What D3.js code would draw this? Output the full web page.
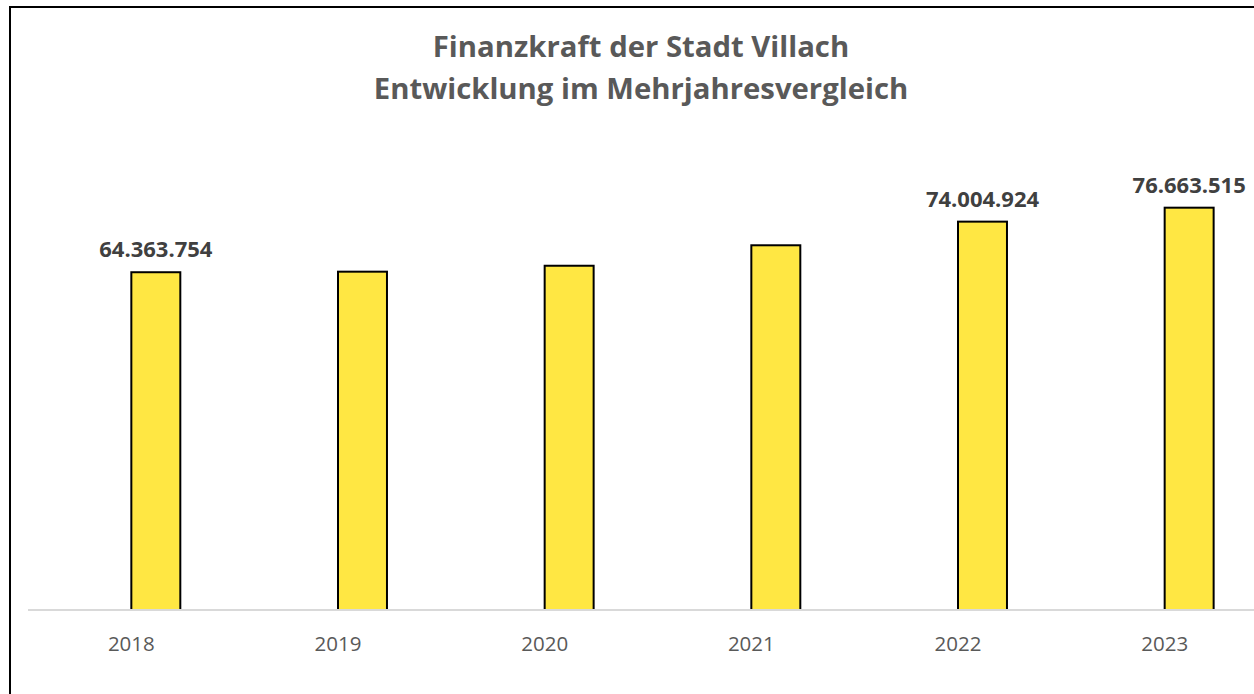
<!DOCTYPE html>
<html>
<head>
<meta charset="utf-8">
<script src="https://cdn.jsdelivr.net/npm/d3@7"></script>
<style>
  body { margin: 0; background: #fff; }
  svg { display: block; font-family: "Open Sans", "Noto Sans", sans-serif; }
</style>
</head>
<body>
<div id="chart"></div>
<script>
// data
const years = ["2018", "2019", "2020", "2021", "2022", "2023"];
const finanzkraft = [64363754, 64470000, 65600000, 69500000, 74004924, 76663515];
const showLabel = [true, false, false, false, true, true];
const titleLines = ["Finanzkraft der Stadt Villach", "Entwicklung im Mehrjahresvergleich"];
// second (empty) series slot, as in the original clustered layout
const seriesKeys = ["leer", "finanzkraft"];

const width = 1254;
const height = 694;

const de = d3.formatLocale({ decimal: ",", thousands: ".", grouping: [3], currency: ["", " €"] });
const fmt = de.format(",.0f");

const svg = d3.select("#chart")
  .append("svg")
  .attr("width", width)
  .attr("height", height);

////////////////////////////////////////////////////////////////////////////////////

// outer frame (cut off at right and bottom)
svg.append("rect")
  .attr("x", 10)
  .attr("y", 7)
  .attr("width", 1400)
  .attr("height", 900)
  .attr("fill", "#fff")
  .attr("stroke", "#000")
  .attr("stroke-width", 2);

svg.append("g")
  .selectAll("text")
  .data(titleLines)
  .enter()
  .append("text")
  .attr("x", 641)
  .attr("y", (d, i) => 57 + i * 42)
  .attr("text-anchor", "middle")
  .style("font-size", "29.3px")
  .style("font-weight", "bold")
  .style("fill", "#595959")
  .text((d) => d);

////////////////////////////////////////////////////////////////////////////////////

const baseY = 610;

const x0 = d3.scaleBand().domain(years).range([28, 1268]).padding(0);
const x1 = d3.scaleBand().domain(seriesKeys).range([0, x0.bandwidth()]).paddingInner(0).paddingOuter(1.11);
const y = d3.scaleLinear().domain([0, 90000000]).range([baseY, baseY - 472.3]);

const rows = years.map((yr, i) => ({ year: yr, value: finanzkraft[i], label: showLabel[i] }));

svg.append("g")
  .selectAll("rect")
  .data(rows)
  .enter()
  .append("rect")
  .attr("x", (d) => x0(d.year) + x1("finanzkraft"))
  .attr("y", (d) => y(d.value))
  .attr("width", x1.bandwidth())
  .attr("height", (d) => baseY - y(d.value))
  .attr("fill", "#ffe743")
  .attr("stroke", "#000")
  .attr("stroke-width", 2);

svg.append("g")
  .selectAll("text")
  .data(rows.filter((d) => d.label))
  .enter()
  .append("text")
  .attr("x", (d) => x0(d.year) + x1("finanzkraft") + x1.bandwidth() / 2)
  .attr("y", (d) => y(d.value) - 15)
  .attr("text-anchor", "middle")
  .style("font-size", "22px")
  .style("font-weight", "bold")
  .style("fill", "#404040")
  .text((d) => fmt(d.value));

// category axis
const xAxis = svg.append("g")
  .attr("transform", `translate(0,${baseY})`)
  .call(d3.axisBottom(x0).tickSize(0).tickPadding(26));

xAxis.select(".domain")
  .attr("d", `M28,0H1254`)
  .attr("stroke", "#d9d9d9")
  .attr("stroke-width", 2);

xAxis.selectAll("text")
  .style("font-size", "20.5px")
  .style("font-family", "\"Open Sans\", sans-serif")
  .style("fill", "#595959");
</script>
</body>
</html>
